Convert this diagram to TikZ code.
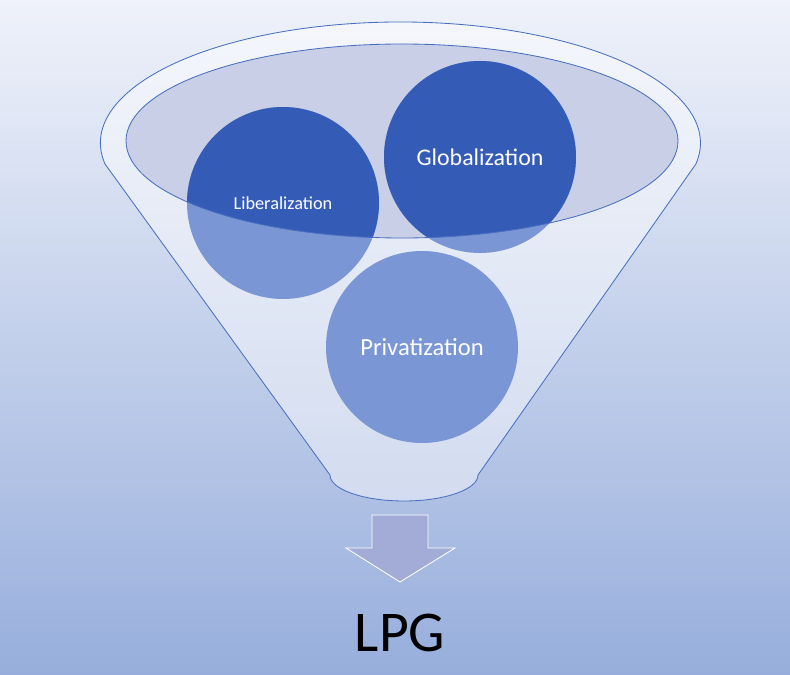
\documentclass[tikz,border=0pt]{standalone}
\usepackage{fontspec}
\setmainfont{Carlito}
\definecolor{darkblue}{HTML}{345CB7}
\definecolor{lightblue}{HTML}{7B96D4}
\definecolor{edgeblue}{HTML}{4A6FBF}
\definecolor{openfill}{HTML}{C8CFE7}
\definecolor{arrowfill}{HTML}{A3ACD6}
\definecolor{bgtop}{HTML}{EFF2FA}
\definecolor{bgbottom}{HTML}{97AEDC}
\begin{document}
\begin{tikzpicture}[x=0.025cm,y=-0.025cm,
    funnel/.style={draw=edgeblue,line width=0.6pt},
    ball/.style={circle,minimum size=192*0.025cm,inner sep=0pt,text=white}
    ]
\useasboundingbox (0,0) rectangle (790,675);
\shade[top color=bgtop,bottom color=bgbottom] (0,0) rectangle (790,675);
% funnel body
\path[funnel,fill=white,fill opacity=0.45] (105,164) arc[start angle=170,end angle=370,x radius=300,y radius=121]
  -- (478,475) arc[start angle=0,end angle=180,x radius=74,y radius=26] -- cycle;
\coordinate (mouth) at (402,141);
\fill[openfill] (mouth) ellipse[x radius=276,y radius=97];
% balls
\node[ball,fill=lightblue] (lib) at (283,203) {};
\node[ball,fill=lightblue] (glo) at (480,157) {};
\node[ball,fill=lightblue] (pri) at (422,347) {\fontsize{17.5pt}{20pt}\selectfont Privatization};
\begin{scope}
\clip (mouth) ellipse[x radius=276,y radius=97];
\fill[darkblue] (lib.center) circle[radius=96];
\fill[darkblue] (glo.center) circle[radius=96];
\end{scope}
\draw[funnel] (mouth) ellipse[x radius=276,y radius=97];
\node[text=white,font=\fontsize{13pt}{15pt}\selectfont] at (lib.center) {Liberalization};
\node[text=white,font=\fontsize{17pt}{19pt}\selectfont] at (glo.center) {Globalization};
% output arrow
\coordinate (tip) at (400,582);
\draw[white,fill=arrowfill,line width=0.6pt] (372,515) -- (428,515) -- (428,548) -- (455,548) -- (tip) -- (346,548) -- (372,548) -- cycle;
\node[font=\fontsize{41pt}{44pt}\selectfont] (lpg) at (400,633) {LPG};
\end{tikzpicture}
\end{document}
